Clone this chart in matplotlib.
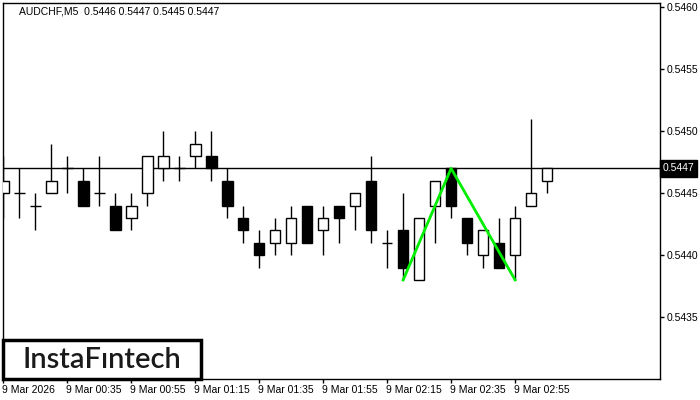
import matplotlib
matplotlib.use("Agg")
import matplotlib.pyplot as plt
import matplotlib.transforms as mtransforms

# ---- data ----
opens  = [0.5445, 0.5445, 0.5444, 0.5445, 0.5447, 0.5446, 0.5445, 0.5444, 0.5443, 0.5445,
          0.5447, 0.5447, 0.5448, 0.5448, 0.5446, 0.5443, 0.5441, 0.5441, 0.5441, 0.5444,
          0.5442, 0.5444, 0.5444, 0.5446, 0.5441, 0.5442, 0.5438, 0.5444, 0.5447, 0.5443,
          0.5440, 0.5441, 0.5440, 0.5444, 0.5446]
highs  = [0.5448, 0.5447, 0.5445, 0.5449, 0.5448, 0.5447, 0.5448, 0.5445, 0.5445, 0.5448,
          0.5450, 0.5448, 0.5450, 0.5450, 0.5447, 0.5444, 0.5442, 0.5443, 0.5444, 0.5444,
          0.5444, 0.5444, 0.5445, 0.5448, 0.5442, 0.5445, 0.5443, 0.5446, 0.5447, 0.5443,
          0.5442, 0.5443, 0.5444, 0.5451, 0.5447]
lows   = [0.5443, 0.5443, 0.5442, 0.5445, 0.5445, 0.5444, 0.5444, 0.5442, 0.5442, 0.5444,
          0.5446, 0.5446, 0.5447, 0.5446, 0.5443, 0.5441, 0.5439, 0.5440, 0.5440, 0.5441,
          0.5440, 0.5441, 0.5442, 0.5441, 0.5439, 0.5438, 0.5438, 0.5441, 0.5443, 0.5440,
          0.5439, 0.5439, 0.5438, 0.5444, 0.5445]
closes = [0.5446, 0.5445, 0.5444, 0.5446, 0.5447, 0.5444, 0.5445, 0.5442, 0.5444, 0.5448,
          0.5448, 0.5447, 0.5449, 0.5447, 0.5444, 0.5442, 0.5440, 0.5442, 0.5443, 0.5441,
          0.5443, 0.5443, 0.5445, 0.5442, 0.5441, 0.5439, 0.5443, 0.5446, 0.5444, 0.5441,
          0.5442, 0.5439, 0.5443, 0.5445, 0.5447]

tick_positions = [0, 4, 8, 12, 16, 20, 24, 28, 32]
tick_labels = ["9 Mar 2026", "9 Mar 00:35", "9 Mar 00:55", "9 Mar 01:15", "9 Mar 01:35",
               "9 Mar 01:55", "9 Mar 02:15", "9 Mar 02:35", "9 Mar 02:55"]
y_ticks = [0.5435, 0.5440, 0.5445, 0.5450, 0.5455, 0.5460]

current_price = 0.5447
pattern_idx = [25, 28, 32]
pattern_vals = [0.5438, 0.5447, 0.5438]

header = "AUDCHF,M5  0.5446 0.5447 0.5445 0.5447"

FONT = "Liberation Sans"
FS = 7.5

# ---- figure ----
fig = plt.figure(figsize=(7, 4), dpi=100)
ax = fig.add_axes([3/700, 1 - 379/400, (660 - 3)/700, (379 - 2.5)/400])

n = len(opens)
xs = list(range(n))
ax.vlines(xs, lows, highs, color="black", linewidth=1, zorder=2)
bottoms = [min(o, c) for o, c in zip(opens, closes)]
heights = [abs(c - o) for o, c in zip(opens, closes)]
faces = ["white" if c >= o else "black" for o, c in zip(opens, closes)]
ax.bar(xs, heights, bottom=bottoms, width=0.66, color=faces, edgecolor="black",
       linewidth=1, zorder=3)

ax.axhline(current_price, color="black", linewidth=1, zorder=1)
ax.plot(pattern_idx, pattern_vals, color="#00ee00", linewidth=2, zorder=4)

ax.set_xlim(-0.02, 41.06)
ax.set_ylim(0.54300, 0.54604)

for s in ax.spines.values():
    s.set_linewidth(1)
    s.set_color("black")

ax.yaxis.tick_right()
ax.set_yticks(y_ticks)
ax.set_yticklabels([f"{v:.4f}" for v in y_ticks], fontsize=FS, family=FONT)
ax.tick_params(axis="y", direction="out", length=3, width=1, pad=2)

ax.set_xticks(tick_positions)
ax.set_xticklabels(tick_labels, fontsize=FS, family=FONT, ha="left")
ax.tick_params(axis="x", direction="out", length=3, width=1, pad=1)
for lbl in ax.get_xticklabels():
    lbl.set_transform(lbl.get_transform() + mtransforms.ScaledTranslation(-1/100, 0, fig.dpi_scale_trans))

# current price label
trans = mtransforms.blended_transform_factory(ax.transAxes, ax.transData)
ax.text(1.004, current_price, f"{current_price:.4f}", transform=trans, fontsize=FS,
        color="white", va="center", ha="left", family=FONT,
        bbox=dict(boxstyle="square,pad=0.3", facecolor="black", edgecolor="black"),
        clip_on=False, zorder=10)

# header
ax.text(16/657, 1 - 9/376, header, transform=ax.transAxes, fontsize=FS,
        va="center", ha="left", family=FONT)

# logo
logo = plt.Rectangle((3/700, 1 - 379/400), (201 - 3)/700, (379 - 340)/400,
                     transform=fig.transFigure, facecolor="white", edgecolor="black",
                     linewidth=2.5, zorder=20)
fig.patches.append(logo)
fig.text(102/700, 1 - 360/400, "InstaF\u0131ntech", fontsize=21, family="Lato",
         fontweight="semibold", ha="center", va="center", color="#1a1a1a", zorder=21)

fig.savefig("out.png", dpi=100)
